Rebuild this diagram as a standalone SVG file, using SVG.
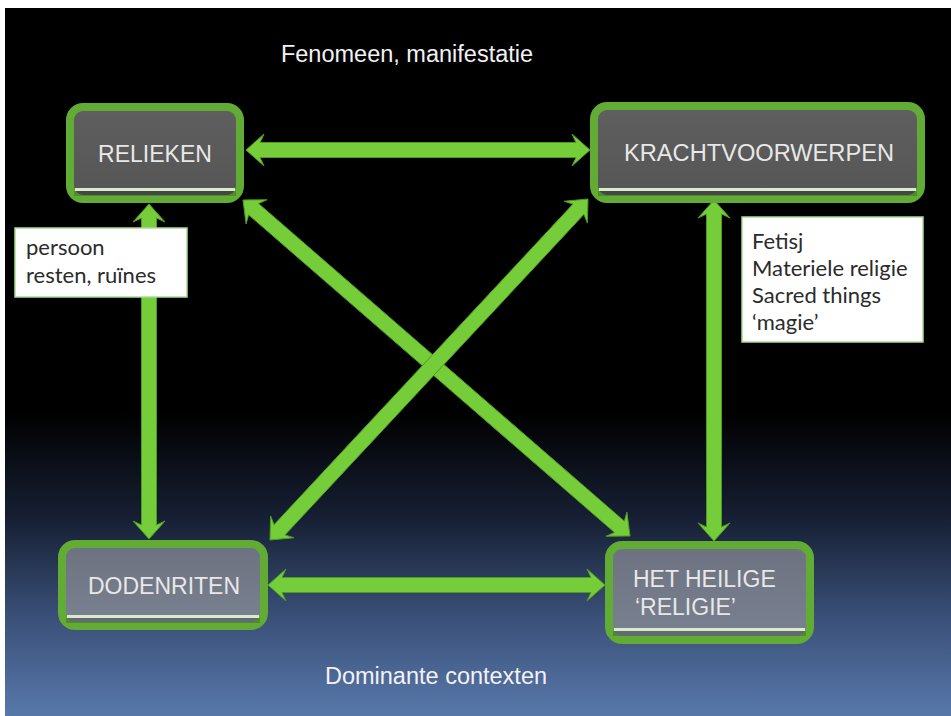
<svg xmlns="http://www.w3.org/2000/svg" width="951" height="716" viewBox="0 0 951 716">
  <defs>
    <linearGradient id="bg" x1="0" y1="0" x2="0" y2="1">
      <stop offset="0" stop-color="#000000"/>
      <stop offset="0.57" stop-color="#000000"/>
      <stop offset="0.72" stop-color="#161f33"/>
      <stop offset="0.86" stop-color="#3a5078"/>
      <stop offset="1" stop-color="#5878aa"/>
    </linearGradient>
    <linearGradient id="topfill" x1="0" y1="0" x2="0" y2="1">
      <stop offset="0" stop-color="#5f5f5f"/>
      <stop offset="1" stop-color="#555555"/>
    </linearGradient>
    <linearGradient id="botfill" x1="0" y1="0" x2="0" y2="1">
      <stop offset="0" stop-color="#6c7280"/>
      <stop offset="1" stop-color="#7a8190"/>
    </linearGradient>
  </defs>
  <style>
    .node { stroke: #62ab35; stroke-width: 8; }
    .hl { fill: #d9ecc9; }
    .shade { fill: #000000; opacity: 0.18; }
    .ntext { font-family: "Liberation Sans", Arial, sans-serif; font-size: 23px; fill: #e8e8e8; }
    .title { font-family: "Liberation Sans", Arial, sans-serif; font-size: 23.5px; fill: #f2f2f2; }
    .arrow { fill: #76cd3a; stroke: #4f9a24; stroke-width: 1; stroke-linejoin: miter; }
    .lbox { fill: #ffffff; stroke: #a8dc8f; stroke-width: 1.5; }
    .ltext { font-family: Lato, "Open Sans", sans-serif; font-size: 22px; fill: #2b2b2b; }
  </style>

  <rect x="0" y="0" width="951" height="716" fill="#ffffff"/>
  <rect x="5" y="8" width="946" height="708" fill="url(#bg)"/>

  <text class="title" x="407" y="62" text-anchor="middle">Fenomeen, manifestatie</text>
  <text class="title" x="436" y="684" text-anchor="middle">Dominante contexten</text>

  <g id="connectors">
    <polygon class="arrow" points="246,150 264,166 260,157.5 576,157.5 572,166 590,150 572,134 576,142.5 260,142.5 264,134"/>
    <polygon class="arrow" points="268,585 286,601 282,592.5 591,592.5 587,601 605,585 587,569 591,577.5 282,577.5 286,569"/>
    <polygon class="arrow" points="149,204 165,222 156.5,218 156.5,525 165,521 149,539 133,521 141.5,525 141.5,218 133,222"/>
    <polygon class="arrow" points="714,200 730,218 721.5,214 721.5,527 730,523 714,541 698,523 706.5,527 706.5,214 698,218"/>
    <polygon class="arrow" points="243,200 246.09,223.89 248.65,214.84 614.51,532.48 605.91,536.27 630,536 626.91,512.11 624.35,521.16 258.49,203.52 267.09,199.73"/>
    <polygon class="arrow" points="588,199 587.42,223.07 583.93,214.35 285.03,534.89 293.98,537.75 270,540 270.58,515.93 274.07,524.65 572.97,204.11 564.02,201.25"/>
  </g>

  <g id="relieken">
    <rect class="node" x="70" y="107" width="170" height="92" rx="13" fill="url(#topfill)"/>
    <rect class="shade" x="74" y="191" width="162" height="5"/>
    <rect class="hl" x="75" y="188" width="160" height="3"/>
    <text class="ntext" x="155" y="162" text-anchor="middle">RELIEKEN</text>
  </g>

  <g id="krachtvoorwerpen">
    <rect class="node" x="594" y="106" width="327" height="93" rx="13" fill="url(#topfill)"/>
    <rect class="shade" x="598" y="191" width="319" height="5"/>
    <rect class="hl" x="599" y="188" width="317" height="3"/>
    <text class="ntext" x="759" y="161" text-anchor="middle" textLength="270" lengthAdjust="spacingAndGlyphs">KRACHTVOORWERPEN</text>
  </g>

  <g id="dodenriten">
    <rect class="node" x="62" y="544" width="202" height="82" rx="13" fill="url(#botfill)"/>
    <rect class="shade" x="66" y="618" width="194" height="5"/>
    <rect class="hl" x="67" y="615" width="192" height="3"/>
    <text class="ntext" x="164" y="594" text-anchor="middle">DODENRITEN</text>
  </g>

  <g id="het-heilige">
    <rect class="node" x="609" y="545" width="201" height="95" rx="13" fill="url(#botfill)"/>
    <rect class="shade" x="613" y="631" width="193" height="5"/>
    <rect class="hl" x="614" y="628" width="191" height="3"/>
    <text class="ntext" x="633" y="587">HET HEILIGE</text>
    <text class="ntext" x="635" y="615">‘RELIGIE’</text>
  </g>

  <g id="label-relieken">
    <rect class="lbox" x="15" y="228" width="172" height="69"/>
    <text class="ltext" x="26" y="255">persoon</text>
    <text class="ltext" x="26" y="283">resten, ruïnes</text>
  </g>

  <g id="label-krachtvoorwerpen">
    <rect class="lbox" x="742" y="217" width="181" height="125"/>
    <text class="ltext" x="752" y="249">Fetisj</text>
    <text class="ltext" x="752" y="276">Materiele religie</text>
    <text class="ltext" x="752" y="303">Sacred things</text>
    <text class="ltext" x="752" y="330">‘magie’</text>
  </g>
</svg>
